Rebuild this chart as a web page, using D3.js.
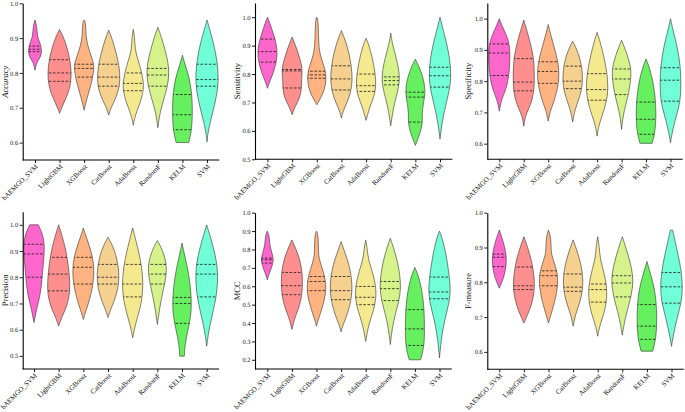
<!DOCTYPE html>
<html>
<head>
<meta charset="utf-8">
<script src="https://cdnjs.cloudflare.com/ajax/libs/d3/7.8.5/d3.min.js"></script>
<style>
body { margin: 0; background: #fff; }
text { font-family: "Liberation Serif", "Times New Roman", serif; fill: #111; text-rendering: geometricPrecision; }
</style>
</head>
<body>
<svg id="chart" width="685" height="412"></svg>
<script>
const models = ['bAEMGO_SVM', 'LightGBM', 'XGBoost', 'CatBoost', 'AdaBoost', 'RandomF', 'KELM', 'SVM'];
const colors = ['#ff66cc', '#ff8f8f', '#ffb380', '#f5d08f', '#f5e98f', '#d6f28b', '#66ef5e', '#70ffd6'];

// violin outlines: [value, relative density] from top to bottom
const accuracyShape = [
    [[0.952,0],[0.933,0.17],[0.904,0.2],[0.89,0.4],[0.875,0.53],[0.861,0.57],[0.847,0.5],[0.832,0.2],[0.823,0.1],[0.808,0]],
    [[0.925,0],[0.904,0.33],[0.875,0.63],[0.837,0.92],[0.80,1.03],[0.77,0.97],[0.741,0.75],[0.712,0.33],[0.69,0.07],[0.684,0]],
    [[0.952,0],[0.945,0.13],[0.92,0.15],[0.895,0.2],[0.866,0.42],[0.837,0.75],[0.818,0.87],[0.799,0.8],[0.77,0.63],[0.741,0.37],[0.712,0.13],[0.693,0]],
    [[0.923,0],[0.895,0.33],[0.856,0.67],[0.818,0.92],[0.78,1.0],[0.75,0.87],[0.722,0.53],[0.698,0.17],[0.679,0]],
    [[0.925,0],[0.9,0.13],[0.866,0.15],[0.837,0.42],[0.80,0.75],[0.765,0.92],[0.741,0.83],[0.712,0.58],[0.679,0.17],[0.65,0]],
    [[0.931,0],[0.904,0.3],[0.866,0.63],[0.827,0.92],[0.794,0.97],[0.76,0.83],[0.722,0.5],[0.684,0.17],[0.643,0]],
    [[0.851,0],[0.827,0.2],[0.789,0.58],[0.741,0.83],[0.693,0.87],[0.645,0.83],[0.616,0.67],[0.60,0.55]],
    [[0.952,0],[0.923,0.25],[0.885,0.58],[0.837,0.87],[0.789,1.0],[0.75,0.92],[0.703,0.63],[0.655,0.25],[0.626,0.08],[0.602,0]]
];
const accuracyQuart = [[0.877,0.868,0.861],[0.838,0.80,0.776],[0.825,0.813,0.788],[0.825,0.788,0.762],[0.80,0.77,0.749],[0.813,0.794,0.762],[0.738,0.68,0.637],[0.825,0.781,0.762]];

const sensitivityShape = [
    [[1.0,0],[0.979,0.2],[0.944,0.5],[0.909,0.75],[0.873,0.87],[0.838,0.75],[0.803,0.5],[0.78,0.25],[0.75,0]],
    [[0.93,0],[0.897,0.33],[0.856,0.67],[0.815,0.92],[0.78,0.8],[0.75,0.83],[0.715,0.67],[0.686,0.25],[0.657,0]],
    [[1.0,0],[0.99,0.12],[0.93,0.15],[0.885,0.2],[0.85,0.42],[0.815,0.75],[0.78,0.83],[0.744,0.67],[0.715,0.33],[0.692,0]],
    [[0.953,0],[0.92,0.33],[0.873,0.67],[0.826,0.87],[0.78,0.97],[0.733,0.8],[0.698,0.47],[0.668,0.13],[0.645,0]],
    [[0.926,0],[0.897,0.3],[0.85,0.58],[0.803,0.8],[0.756,0.87],[0.721,0.7],[0.686,0.33],[0.637,0]],
    [[0.944,0],[0.91,0.13],[0.885,0.3],[0.826,0.67],[0.78,0.8],[0.733,0.58],[0.686,0.25],[0.618,0]],
    [[0.852,0],[0.826,0.33],[0.78,0.75],[0.733,0.87],[0.698,0.7],[0.662,0.58],[0.627,0.63],[0.592,0.42],[0.549,0]],
    [[1.0,0],[0.967,0.2],[0.909,0.58],[0.85,0.87],[0.791,0.97],[0.744,0.83],[0.686,0.47],[0.627,0.17],[0.571,0]]
];
const sensitivityQuart = [[0.923,0.879,0.842],[0.816,0.811,0.751],[0.81,0.797,0.785],[0.829,0.783,0.744],[0.80,0.759,0.739],[0.79,0.777,0.762],[0.736,0.719,0.631],[0.824,0.794,0.754]];

const specificityShape = [
    [[1.0,0],[0.976,0.25],[0.944,0.67],[0.912,0.92],[0.869,0.92],[0.827,0.87],[0.784,0.67],[0.752,0.33],[0.731,0.13],[0.704,0]],
    [[0.995,0],[0.965,0.25],[0.922,0.58],[0.874,0.87],[0.827,0.92],[0.779,0.92],[0.741,0.75],[0.71,0.42],[0.688,0.13],[0.656,0]],
    [[0.981,0],[0.944,0.25],[0.901,0.58],[0.859,0.87],[0.816,0.97],[0.773,0.8],[0.731,0.47],[0.704,0.17],[0.672,0]],
    [[0.928,0],[0.901,0.37],[0.859,0.75],[0.816,0.87],[0.779,0.83],[0.741,0.53],[0.71,0.2],[0.669,0]],
    [[0.956,0],[0.928,0.25],[0.88,0.58],[0.827,0.87],[0.773,0.97],[0.731,0.8],[0.688,0.42],[0.656,0.13],[0.624,0]],
    [[0.931,0],[0.901,0.33],[0.869,0.63],[0.837,0.83],[0.805,0.8],[0.763,0.63],[0.72,0.33],[0.688,0.13],[0.646,0]],
    [[0.871,0],[0.848,0.25],[0.805,0.58],[0.752,0.8],[0.699,0.87],[0.656,0.83],[0.624,0.7],[0.601,0.53]],
    [[1.0,0],[0.965,0.2],[0.912,0.58],[0.848,0.87],[0.784,0.92],[0.731,0.83],[0.688,0.5],[0.646,0.2],[0.603,0]]
];
const specificityQuart = [[0.919,0.89,0.818],[0.872,0.797,0.769],[0.862,0.831,0.793],[0.848,0.80,0.776],[0.824,0.773,0.739],[0.839,0.807,0.757],[0.733,0.678,0.63],[0.843,0.803,0.736]];

const precisionShape = [
    [[1.0,0.37],[0.965,0.75],[0.927,0.92],[0.876,0.87],[0.825,0.75],[0.774,0.67],[0.723,0.5],[0.684,0.25],[0.627,0]],
    [[1.0,0],[0.965,0.25],[0.914,0.58],[0.85,0.83],[0.786,0.97],[0.735,0.97],[0.684,0.67],[0.646,0.25],[0.614,0]],
    [[0.988,0],[0.953,0.25],[0.902,0.67],[0.85,0.92],[0.80,0.92],[0.748,0.75],[0.697,0.42],[0.665,0.17],[0.639,0]],
    [[0.953,0],[0.927,0.33],[0.889,0.67],[0.838,0.92],[0.786,0.97],[0.735,0.75],[0.697,0.42],[0.671,0.17],[0.646,0]],
    [[0.988,0],[0.953,0.2],[0.902,0.5],[0.838,0.8],[0.774,0.92],[0.71,0.8],[0.659,0.5],[0.614,0.2],[0.569,0]],
    [[0.94,0],[0.914,0.33],[0.876,0.67],[0.838,0.8],[0.80,0.75],[0.748,0.5],[0.697,0.25],[0.62,0]],
    [[0.93,0],[0.889,0.2],[0.825,0.53],[0.761,0.75],[0.697,0.83],[0.646,0.75],[0.595,0.5],[0.543,0.25],[0.499,0.2]],
    [[1.0,0],[0.965,0.25],[0.914,0.58],[0.85,0.92],[0.786,0.97],[0.723,0.83],[0.659,0.5],[0.595,0.17],[0.537,0]]
];
const precisionQuart = [[0.926,0.889,0.80],[0.876,0.812,0.748],[0.876,0.838,0.774],[0.849,0.80,0.774],[0.849,0.774,0.725],[0.849,0.812,0.774],[0.723,0.70,0.624],[0.849,0.812,0.725]];

const mccShape = [
    [[0.90,0],[0.879,0.17],[0.825,0.2],[0.789,0.37],[0.753,0.53],[0.726,0.5],[0.69,0.3],[0.662,0.13],[0.635,0]],
    [[0.852,0],[0.807,0.33],[0.735,0.75],[0.662,0.92],[0.59,0.92],[0.518,0.8],[0.446,0.37],[0.41,0.17],[0.365,0]],
    [[0.90,0],[0.88,0.15],[0.80,0.17],[0.753,0.2],[0.699,0.5],[0.626,0.83],[0.554,0.8],[0.482,0.5],[0.428,0.2],[0.383,0]],
    [[0.843,0],[0.789,0.3],[0.717,0.7],[0.644,0.92],[0.572,0.97],[0.50,0.8],[0.428,0.42],[0.383,0.13],[0.352,0]],
    [[0.852,0],[0.80,0.15],[0.753,0.2],[0.68,0.58],[0.608,0.87],[0.536,0.92],[0.464,0.67],[0.392,0.25],[0.30,0]],
    [[0.861,0],[0.807,0.3],[0.735,0.63],[0.662,0.83],[0.59,0.92],[0.518,0.75],[0.446,0.42],[0.374,0.17],[0.283,0]],
    [[0.702,0],[0.653,0.33],[0.572,0.63],[0.482,0.8],[0.392,0.83],[0.301,0.83],[0.247,0.7],[0.20,0.5]],
    [[0.90,0],[0.861,0.25],[0.771,0.58],[0.68,0.8],[0.59,0.97],[0.518,0.87],[0.428,0.5],[0.338,0.2],[0.211,0]]
];
const mccQuart = [[0.753,0.744,0.726],[0.675,0.603,0.554],[0.653,0.626,0.576],[0.653,0.576,0.527],[0.599,0.54,0.50],[0.626,0.587,0.522],[0.473,0.368,0.278],[0.65,0.569,0.532]];

const fmeasureShape = [
    [[0.95,0],[0.927,0.25],[0.898,0.5],[0.869,0.63],[0.841,0.58],[0.812,0.37],[0.793,0.13],[0.783,0]],
    [[0.931,0],[0.903,0.3],[0.86,0.7],[0.812,0.92],[0.774,0.92],[0.736,0.67],[0.707,0.33],[0.683,0]],
    [[0.95,0],[0.93,0.2],[0.90,0.22],[0.879,0.25],[0.841,0.67],[0.812,0.83],[0.774,0.75],[0.736,0.47],[0.702,0.17],[0.683,0]],
    [[0.922,0],[0.888,0.37],[0.85,0.7],[0.812,0.87],[0.774,0.83],[0.736,0.53],[0.707,0.2],[0.674,0]],
    [[0.931,0],[0.90,0.15],[0.869,0.2],[0.831,0.53],[0.783,0.83],[0.736,0.75],[0.698,0.42],[0.669,0.13],[0.645,0]],
    [[0.931,0],[0.898,0.33],[0.86,0.67],[0.822,0.92],[0.783,0.92],[0.736,0.58],[0.698,0.25],[0.648,0]],
    [[0.86,0],[0.831,0.25],[0.783,0.67],[0.736,0.83],[0.688,0.87],[0.64,0.8],[0.602,0.5]],
    [[0.95,0.1],[0.927,0.25],[0.879,0.58],[0.831,0.87],[0.783,0.97],[0.745,0.87],[0.698,0.5],[0.65,0.17],[0.616,0]]
];
const fmeasureQuart = [[0.881,0.872,0.845],[0.844,0.79,0.779],[0.833,0.819,0.79],[0.824,0.786,0.774],[0.795,0.779,0.743],[0.819,0.798,0.758],[0.736,0.674,0.636],[0.828,0.787,0.74]];

// y tick labels per panel
const accuracyTicks = [0.6, 0.7, 0.8, 0.9, 1.0];
const sensitivityTicks = [0.5, 0.6, 0.7, 0.8, 0.9, 1.0];
const specificityTicks = [0.6, 0.7, 0.8, 0.9, 1.0];
const precisionTicks = [0.5, 0.6, 0.7, 0.8, 0.9, 1.0];
const mccTicks = [0.2, 0.3, 0.4, 0.5, 0.6, 0.7, 0.8, 0.9, 1.0];
const fmeasureTicks = [0.6, 0.7, 0.8, 0.9, 1.0];

// panel layout
const panels = [
    { title: 'Accuracy', shape: accuracyShape, quart: accuracyQuart, ticks: accuracyTicks, domain: [0.55, 1.0],
      left: 22.7, first: 35, last: 207, top: 3.3, bottom: 160, titleX: 8, italic: true },
    { title: 'Sensitivity', shape: sensitivityShape, quart: sensitivityQuart, ticks: sensitivityTicks, domain: [0.5, 1.05],
      left: 255, first: 267.5, last: 440, top: 3, bottom: 159.3, titleX: 240 },
    { title: 'Specificity', shape: specificityShape, quart: specificityQuart, ticks: specificityTicks, domain: [0.55, 1.05],
      left: 487.3, first: 499.3, last: 670.5, top: 3, bottom: 159.3, titleX: 471 },
    { title: 'Precision', shape: precisionShape, quart: precisionQuart, ticks: precisionTicks, domain: [0.45, 1.05],
      left: 22.7, first: 34, last: 206.7, top: 211.7, bottom: 369, titleX: 8 },
    { title: 'MCC', shape: mccShape, quart: mccQuart, ticks: mccTicks, domain: [0.15, 1.0],
      left: 255, first: 267.3, last: 439.5, top: 212.7, bottom: 369, titleX: 240 },
    { title: 'F-measure', shape: fmeasureShape, quart: fmeasureQuart, ticks: fmeasureTicks, domain: [0.55, 1.0],
      left: 487.3, first: 499.3, last: 671.5, top: 212.7, bottom: 369.3, titleX: 471 }
];

const svg = d3.select('#chart');
const defs = svg.append('defs');
const w = d3.scaleLinear().domain([0, 1]).range([0, 11.5]);

panels.forEach(function(p, pi) {
    const g = svg.append('g').classed('panel', true);

    const y = d3.scaleLinear().domain(p.domain).range([p.bottom, p.top]);
    const x = d3.scalePoint().domain(models).range([p.first, p.last]);
    const step = x.step();

    // violins
    models.forEach(function(m, i) {
        const cx = x(m);
        const area = d3.area()
            .y(d => y(d[0]))
            .x0(d => cx - w(d[1]))
            .x1(d => cx + w(d[1]))
            .curve(d3.curveBasis);
        const dpath = area(p.shape[i]);
        const id = 'clip' + pi + '_' + i;

        defs.append('clipPath').attr('id', id).append('path').attr('d', dpath);

        g.append('path')
            .attr('d', dpath)
            .attr('fill', colors[i])
            .attr('stroke', '#333')
            .attr('stroke-width', 0.6);

        g.append('g').attr('clip-path', 'url(#' + id + ')')
            .selectAll('line')
            .data(p.quart[i])
            .enter().append('line')
            .attr('x1', cx - 15)
            .attr('x2', cx + 15)
            .attr('y1', d => y(d))
            .attr('y2', d => y(d))
            .attr('stroke', '#1a1a1a')
            .attr('stroke-width', 0.8)
            .attr('stroke-dasharray', '2.6,1.6');
    });

    // y axis
    const ya = g.append('g')
        .attr('transform', 'translate(' + p.left + ',0)')
        .call(d3.axisLeft(y).tickValues(p.ticks).tickFormat(d3.format('.1f')).tickSize(3).tickSizeOuter(0).tickPadding(1.5));
    ya.select('.domain').attr('stroke', '#000').attr('stroke-width', 1.1);
    ya.selectAll('.tick line').attr('stroke', '#000').attr('stroke-width', 0.9);
    ya.selectAll('.tick text').attr('font-family', '"Liberation Serif", serif').attr('font-size', 6.5).attr('fill', '#111');

    // x axis
    const xa = g.append('g')
        .attr('transform', 'translate(0,' + p.bottom + ')')
        .call(d3.axisBottom(x).tickSize(3).tickSizeOuter(0));
    xa.select('.domain').remove();
    xa.append('line')
        .attr('x1', p.left).attr('x2', p.last + step / 2)
        .attr('stroke', '#000').attr('stroke-width', 1.1);
    xa.selectAll('.tick line').attr('stroke', '#000').attr('stroke-width', 0.9);
    xa.selectAll('.tick text')
        .attr('font-family', '"Liberation Serif", serif')
        .attr('font-size', 7)
        .attr('fill', '#111')
        .attr('text-anchor', 'end')
        .attr('dy', null)
        .attr('y', 0)
        .attr('transform', 'translate(3,7) rotate(-45)');

    // y title
    g.append('text')
        .attr('transform', 'translate(' + p.titleX + ',' + ((p.top + p.bottom) / 2) + ') rotate(-90)')
        .attr('text-anchor', 'middle')
        .attr('font-size', 8.5)
        .style('font-style', p.italic ? 'italic' : 'normal')
        .text(p.title);
});
</script>
</body>
</html>
